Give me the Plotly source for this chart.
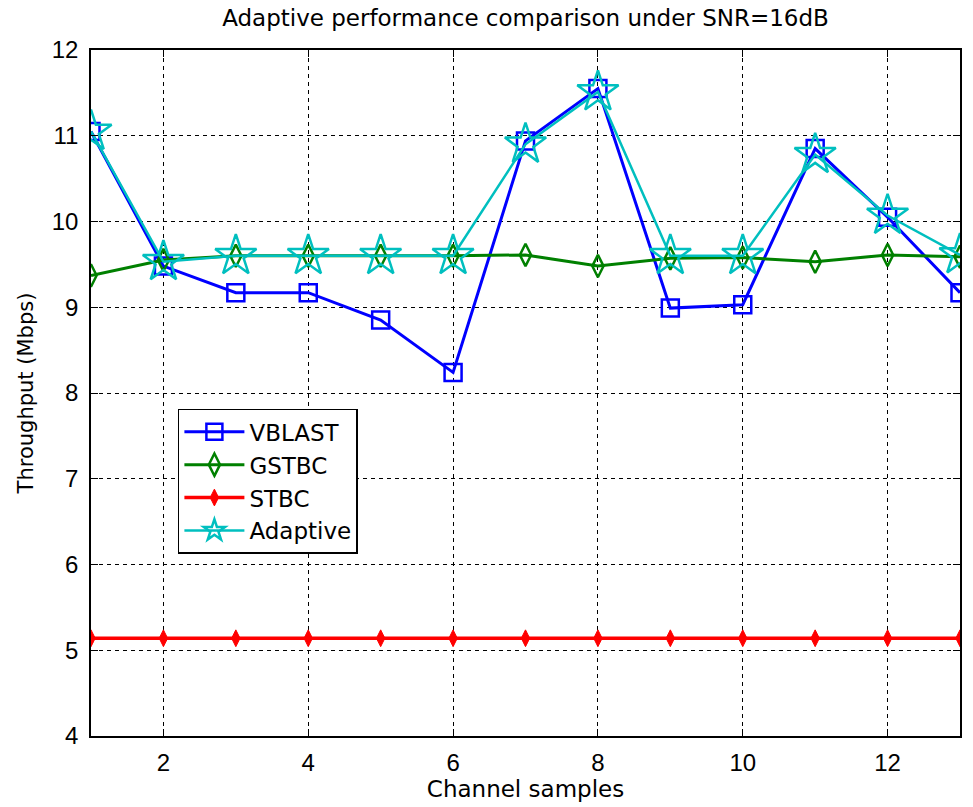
import plotly.graph_objects as go

samples = list(range(1, 14))
vblast = [11.05, 9.48, 9.17, 9.17, 8.85, 8.24, 10.94, 11.55, 8.99, 9.03, 10.85, 10.05, 9.17]
gstbc = [9.37, 9.55, 9.60, 9.60, 9.60, 9.60, 9.61, 9.48, 9.57, 9.58, 9.53, 9.61, 9.59]
stbc = [5.14] * 13
adaptive = [11.05, 9.53, 9.60, 9.60, 9.60, 9.60, 10.90, 11.51, 9.60, 9.60, 10.78, 10.07, 9.61]

x_ticks = [2, 4, 6, 8, 10, 12]
y_ticks = [4, 5, 6, 7, 8, 9, 10, 11, 12]

TXT = "DejaVu Sans"
NUM = "Liberation Sans"

fig = go.Figure()
fig.add_trace(go.Scatter(x=samples, y=vblast, name="VBLAST", mode="lines+markers",
                         line=dict(color="#0000FF", width=3),
                         marker=dict(symbol="square-open", size=17, color="#0000FF",
                                     line=dict(width=2.5, color="#0000FF"))))
fig.add_trace(go.Scatter(x=samples, y=gstbc, name="GSTBC", mode="lines+markers",
                         line=dict(color="#008000", width=3),
                         marker=dict(symbol="diamond-tall-open", size=16, color="#008000",
                                     line=dict(width=2.5, color="#008000"))))
fig.add_trace(go.Scatter(x=samples, y=stbc, name="STBC", mode="lines+markers",
                         line=dict(color="#FF0000", width=3.5),
                         marker=dict(symbol="diamond-tall", size=12, color="#FF0000",
                                     line=dict(width=1, color="#FF0000"))))
fig.add_trace(go.Scatter(x=samples, y=adaptive, name="Adaptive", mode="lines+markers",
                         line=dict(color="#00BFBF", width=2.5),
                         marker=dict(symbol="star-open", size=31, color="#00BFBF",
                                     line=dict(width=2.5, color="#00BFBF"))))

axis_common = dict(
    showline=True, linecolor="black", linewidth=1.5, mirror="ticks",
    ticks="inside", ticklen=7, tickcolor="black", tickwidth=1,
    showgrid=True, gridcolor="black", gridwidth=1, griddash="4px,4px",
    zeroline=False, tickfont=dict(family=NUM, size=24, color="black"),
)

fig.update_layout(
    width=973, height=807,
    margin=dict(l=91, r=13, t=50, b=71),
    paper_bgcolor="white", plot_bgcolor="white",
    font=dict(family=TXT, color="black"),
    title=dict(text="Adaptive performance comparison under SNR=16dB",
               font=dict(family=TXT, size=23, color="black"),
               x=0.5, xref="paper", xanchor="center",
               y=1 - 18 / 807, yref="container", yanchor="middle"),
    xaxis=dict(range=[1, 13], tickvals=x_ticks, ticklabelstandoff=4,
               title=dict(text="Channel samples", font=dict(family=TXT, size=23), standoff=4),
               **axis_common),
    yaxis=dict(range=[4, 12], tickvals=y_ticks, ticklabelstandoff=6,
               title=dict(text="Throughput (Mbps)", font=dict(family=TXT, size=21), standoff=12),
               **axis_common),
    legend=dict(x=0.1, y=0.477, xanchor="left", yanchor="top",
                bgcolor="white", bordercolor="black", borderwidth=1.5,
                font=dict(family=TXT, size=23, color="black"),
                tracegroupgap=0, itemwidth=60,
                entrywidth=125, entrywidthmode="pixels"),
    showlegend=True,
)

fig.write_html("out.html")
